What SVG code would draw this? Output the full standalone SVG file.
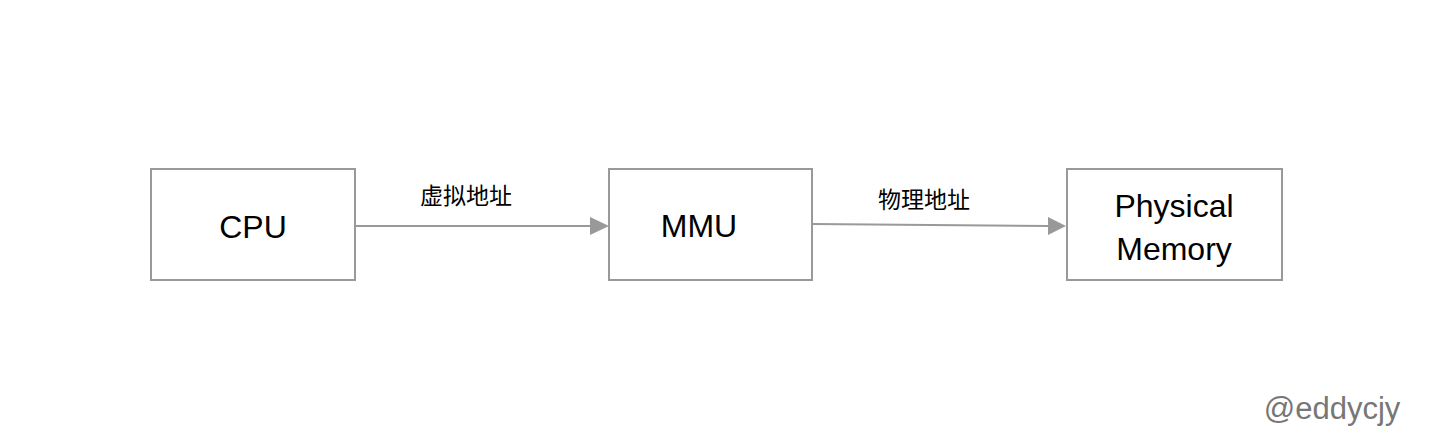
<svg xmlns="http://www.w3.org/2000/svg" width="1432" height="448" viewBox="0 0 1432 448">
<style>
.box{fill:#fff;stroke:#999;stroke-width:2}
.t{font-family:"Liberation Sans","Noto Sans CJK SC",sans-serif;font-size:32px;fill:#000;text-anchor:middle}
.lbl{font-family:"Noto Sans CJK SC",sans-serif;font-size:23px;fill:#000;text-anchor:middle}
.edge{stroke:#999;stroke-width:2;fill:none}
</style>
<rect width="1432" height="448" fill="#fff"/>
<g id="cpu"><rect class="box" x="151" y="169" width="204" height="111"/><text class="t" x="253" y="238">CPU</text></g>
<g id="mmu"><rect class="box" x="609" y="169" width="203" height="111"/><text class="t" x="699" y="237">MMU</text></g>
<g id="mem"><rect class="box" x="1067" y="169" width="215" height="111"/><text class="t" x="1174" y="217">Physical</text><text class="t" x="1174" y="260">Memory</text></g>
<g id="connectors">
<path class="edge" d="M355,226 L590,226"/><path d="M590,217 L609,226 L590,235 z" fill="#999"/>
<path class="edge" d="M813,224 L1048,226"/><path d="M1048,217 L1066,226 L1048,235 z" fill="#999"/>
<text class="lbl" x="466" y="204">虚拟地址</text>
<text class="lbl" x="924" y="208">物理地址</text>
</g>
<text x="1332" y="419" font-family="Liberation Sans,sans-serif" font-size="31" fill="#777" text-anchor="middle">@eddycjy</text>
</svg>
